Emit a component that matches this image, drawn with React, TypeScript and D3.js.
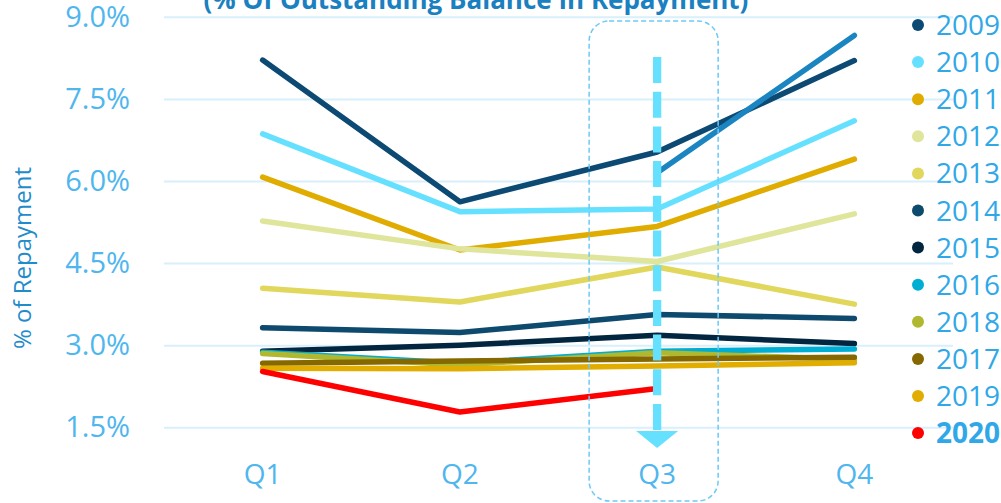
import React, { useEffect, useRef } from 'react';
import * as d3 from 'd3';

// Quarters on the x axis
const quarters = ['Q1', 'Q2', 'Q3', 'Q4'];

// Repayment rate (% of outstanding balance) per vintage year
const y2009 = [8.21, 5.62, 6.53, 8.2];
const y2010 = [6.86, 5.44, 5.49, 7.1];
const y2011 = [6.07, 4.74, 5.17, 6.4];
const y2012 = [5.27, 4.76, 4.53, 5.4];
const y2013 = [4.04, 3.79, 4.43, 3.75];
const y2014 = [3.32, 3.23, 3.56, 3.49];
const y2015 = [2.89, 3.0, 3.18, 3.03];
const y2016 = [2.87, 2.67, 2.89, 2.93];
const y2018 = [2.85, 2.64, 2.86, 2.74];
const y2017 = [2.67, 2.71, 2.75, 2.78];
const y2019 = [2.58, 2.57, 2.62, 2.68];
const y2020 = [2.52, 1.78, 2.21, null];
const extraLine = [null, null, 6.15, 8.66];

const yTicks = [1.5, 3.0, 4.5, 6.0, 7.5, 9.0];

type Series = { name: string; values: (number | null)[]; color: string; legend: boolean };

const series: Series[] = [
  { name: '2009', values: y2009, color: '#0c4a74', legend: true },
  { name: '2010', values: y2010, color: '#66e0ff', legend: true },
  { name: '2011', values: y2011, color: '#e0ac00', legend: true },
  { name: '2012', values: y2012, color: '#e0e59c', legend: true },
  { name: '2013', values: y2013, color: '#e0d75c', legend: true },
  { name: '2014', values: y2014, color: '#0d4a6e', legend: true },
  { name: '2015', values: y2015, color: '#02263f', legend: true },
  { name: '2016', values: y2016, color: '#00aed3', legend: true },
  { name: '2018', values: y2018, color: '#b0b830', legend: true },
  { name: '2017', values: y2017, color: '#866800', legend: true },
  { name: '2019', values: y2019, color: '#e0ad00', legend: true },
  { name: '2020', values: y2020, color: '#ff0000', legend: true },
  { name: 'proj', values: extraLine, color: '#1a85c0', legend: false },
];

const FONT = '"Open Sans", "Noto Sans", sans-serif';
const TICK_COLOR = '#4fb6ee';

const App: React.FC = () => {
  const svgRef = useRef<SVGSVGElement>(null);

  useEffect(() => {
    if (!svgRef.current) return;
    const svg = d3.select(svgRef.current);
    svg.selectAll('*').remove();

    const left = 164;
    const right = 953;

    const x = d3.scalePoint<string>().domain(quarters).range([left, right]).padding(0.5);
    const y = d3.scaleLinear().domain([1.5, 9]).range([427.3, 16.8]);

    // Gridlines + y tick labels
    const yAxis = svg
      .append('g')
      .attr('transform', `translate(${left},0)`)
      .call(
        d3
          .axisLeft(y)
          .tickValues(yTicks)
          .tickFormat((d) => `${d3.format('.1f')(d as number)}%`)
          .tickSize(-(right - left))
          .tickPadding(34)
      );
    yAxis.select('.domain').remove();
    yAxis.selectAll('.tick line').attr('stroke', '#d8effc').attr('stroke-width', 2);
    yAxis
      .selectAll('.tick text')
      .attr('fill', TICK_COLOR)
      .style('font-family', FONT)
      .style('font-size', '29px');

    // Title (cropped at top)
    svg
      .append('text')
      .attr('x', 476)
      .attr('y', 9)
      .attr('text-anchor', 'middle')
      .attr('fill', '#1a80c0')
      .style('font-family', FONT)
      .style('font-weight', 700)
      .style('font-size', '26px')
      .text('(% Of Outstanding Balance In Repayment)');

    // Y axis title
    svg
      .append('text')
      .attr('transform', 'translate(31,258) rotate(-90)')
      .attr('text-anchor', 'middle')
      .attr('fill', '#1f8ccc')
      .style('font-family', FONT)
      .style('font-size', '24px')
      .text('% of Repayment');

    // X labels
    svg
      .append('g')
      .selectAll('text')
      .data(quarters)
      .enter()
      .append('text')
      .attr('x', (d) => x(d) || 0)
      .attr('y', 484)
      .attr('text-anchor', 'middle')
      .attr('fill', TICK_COLOR)
      .style('font-family', FONT)
      .style('font-size', '28px')
      .text((d) => d);

    // Lines
    const line = d3
      .line<number | null>()
      .defined((d) => d !== null)
      .x((_, i) => x(quarters[i]) || 0)
      .y((d) => y(d as number));

    svg
      .append('g')
      .selectAll('path')
      .data(series)
      .enter()
      .append('path')
      .attr('d', (s) => line(s.values))
      .attr('fill', 'none')
      .attr('stroke', (s) => s.color)
      .attr('stroke-width', 5.5)
      .attr('stroke-linecap', 'round')
      .attr('stroke-linejoin', 'round');

    // Highlight box around Q3
    const q3 = x('Q3') || 0;
    svg
      .append('rect')
      .attr('x', q3 - 68)
      .attr('y', 21)
      .attr('width', 129)
      .attr('height', 480)
      .attr('rx', 20)
      .attr('fill', 'none')
      .attr('stroke', '#6ec8f5')
      .attr('stroke-width', 1.5)
      .attr('stroke-dasharray', '5 3');

    // Dashed arrow down to Q3
    svg
      .append('line')
      .attr('x1', q3)
      .attr('x2', q3)
      .attr('y1', 57)
      .attr('y2', 430)
      .attr('stroke', '#66e0ff')
      .attr('stroke-width', 8.3)
      .attr('stroke-dasharray', '26 8.7');
    svg
      .append('path')
      .attr('d', `M${q3 - 21},431 L${q3 + 21},431 L${q3},448 Z`)
      .attr('fill', '#66e0ff');

    // Legend
    const legend = svg
      .append('g')
      .selectAll('g')
      .data(series.filter((s) => s.legend))
      .enter()
      .append('g')
      .attr('transform', (_, i) => `translate(918,${25 + i * 37.1})`);
    legend.append('circle').attr('r', 6).attr('fill', (s) => s.color);
    legend
      .append('text')
      .attr('x', 18)
      .attr('y', 10)
      .attr('fill', '#30a8e8')
      .style('font-family', FONT)
      .style('font-size', '28px')
      .style('font-weight', (s) => (s.name === '2020' ? 700 : 400))
      .text((s) => s.name);

    return () => {
      svg.selectAll('*').remove();
    };
  }, []);

  return (
    <svg
      ref={svgRef}
      width={1001}
      height={503}
      style={{ position: 'fixed', left: 0, top: 0, background: '#fff' }}
    />
  );
};

export default App;
